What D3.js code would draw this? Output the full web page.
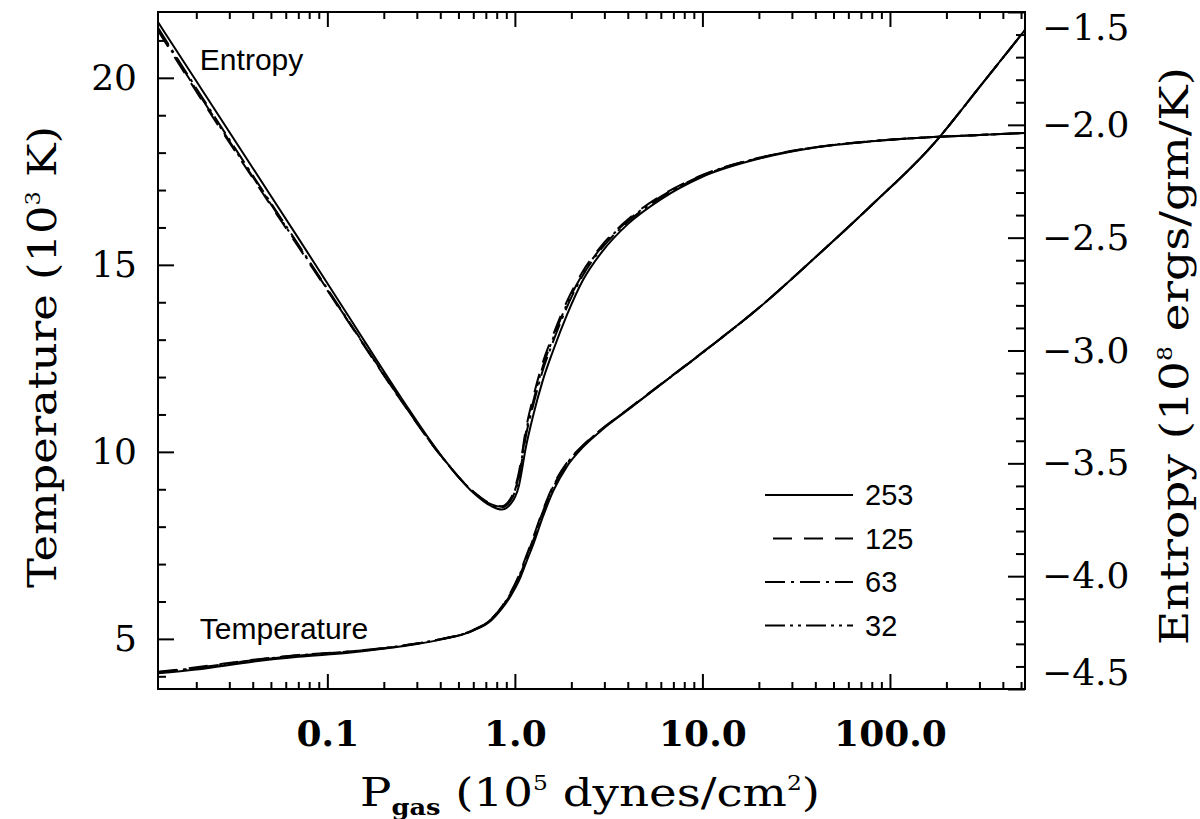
<!DOCTYPE html>
<html><head><meta charset="utf-8">
<script src="https://cdn.jsdelivr.net/npm/d3@7"></script>
<style>body{margin:0;background:#fff}</style>
</head><body>
<svg id="c" width="1200" height="819"></svg>
<script>
// ---- data ----
const pressure = [0.0125, 0.02, 0.04, 0.07, 0.13, 0.25, 0.4, 0.6, 0.75, 0.85, 0.95, 1.05, 1.15, 1.25, 1.4, 1.6, 1.9, 2.3, 2.9, 4, 6, 10, 20, 40, 80, 170, 300, 525];
const seriesNames = ["253", "125", "63", "32"];
const temp253 = [4.08, 4.18, 4.39, 4.52, 4.63, 4.80, 4.98, 5.22, 5.50, 5.80, 6.15, 6.55, 7.05, 7.51, 8.22, 8.95, 9.62, 10.12, 10.58, 11.12, 11.80, 12.65, 13.85, 15.20, 16.60, 18.22, 19.75, 21.28];
const temp125 = [4.12, 4.24, 4.44, 4.57, 4.66, 4.82, 4.99, 5.24, 5.54, 5.86, 6.25, 6.70, 7.22, 7.70, 8.40, 9.10, 9.72, 10.17, 10.61, 11.14, 11.81, 12.66, 13.85, 15.20, 16.60, 18.22, 19.75, 21.28];
const temp63  = [4.10, 4.21, 4.42, 4.55, 4.65, 4.81, 4.99, 5.23, 5.52, 5.83, 6.20, 6.63, 7.15, 7.62, 8.32, 9.04, 9.68, 10.15, 10.60, 11.13, 11.80, 12.65, 13.85, 15.20, 16.60, 18.22, 19.75, 21.28];
const temp32  = [4.11, 4.22, 4.43, 4.56, 4.66, 4.82, 4.99, 5.23, 5.53, 5.85, 6.22, 6.66, 7.18, 7.66, 8.36, 9.07, 9.70, 10.16, 10.60, 11.13, 11.80, 12.65, 13.85, 15.20, 16.60, 18.22, 19.75, 21.28];
const ent253 = [-1.545, -1.806, -2.191, -2.502, -2.849, -3.215, -3.460, -3.630, -3.690, -3.705, -3.680, -3.600, -3.420, -3.290, -3.140, -3.000, -2.840, -2.690, -2.565, -2.440, -2.330, -2.230, -2.150, -2.100, -2.073, -2.054, -2.045, -2.036];
const ent125 = [-1.582, -1.852, -2.236, -2.540, -2.876, -3.228, -3.463, -3.625, -3.680, -3.690, -3.655, -3.540, -3.340, -3.210, -3.060, -2.930, -2.780, -2.650, -2.535, -2.420, -2.315, -2.222, -2.146, -2.099, -2.072, -2.054, -2.045, -2.036];
const ent63  = [-1.570, -1.838, -2.224, -2.530, -2.870, -3.225, -3.462, -3.627, -3.684, -3.695, -3.665, -3.565, -3.370, -3.245, -3.095, -2.960, -2.805, -2.668, -2.548, -2.430, -2.322, -2.226, -2.148, -2.100, -2.073, -2.054, -2.045, -2.036];
const ent32  = [-1.576, -1.845, -2.230, -2.535, -2.873, -3.226, -3.462, -3.626, -3.682, -3.692, -3.660, -3.555, -3.355, -3.228, -3.078, -2.945, -2.792, -2.660, -2.542, -2.425, -2.318, -2.224, -2.147, -2.099, -2.072, -2.054, -2.045, -2.036];
const xMajorTicks = [0.1, 1, 10, 100];
const xTickLabels = ["0.1", "1.0", "10.0", "100.0"];
const tMajorTicks = [5, 10, 15, 20];
const sMajorTicks = [-1.5, -2.0, -2.5, -3.0, -3.5, -4.0, -4.5];

// ---- layout ----
const L = 158, R = 1025, T = 12, B = 689;
const svg = d3.select("#c");
const x = d3.scaleLog().domain([0.0125, 525]).range([L, R]);
const yT = d3.scaleLinear().domain([3.66, 21.76]).range([B, T]);
const yS = d3.scaleLinear().domain([-4.5, -1.5]).range([B, T]);

const serif = "'DejaVu Serif', 'Liberation Serif', serif";
const sans = "'Liberation Sans', Arial, sans-serif";

// minor ticks
const xMinor = [];
[0.01, 0.1, 1, 10, 100].forEach(d => { for (let k = 2; k <= 9; k++) { const v = d * k; if (v >= 0.0125 && v <= 525) xMinor.push(v); } });
const tMinor = d3.range(4, 22).filter(v => v % 5 !== 0);
const sMinor = d3.range(-45, -14).map(v => v / 10).filter(v => Math.round(v * 10) % 5 !== 0);

function styleAxis(g) { g.select(".domain").remove(); g.selectAll("line").attr("stroke", "#000").attr("stroke-width", 2); }

// bottom
svg.append("g").attr("transform", `translate(0,${B})`)
  .call(d3.axisBottom(x).tickValues(xMinor).tickSizeInner(-7).tickSizeOuter(0).tickFormat(""))
  .call(styleAxis);
svg.append("g").attr("transform", `translate(0,${B})`)
  .call(d3.axisBottom(x).tickValues(xMajorTicks).tickSizeInner(-15).tickSizeOuter(0).tickPadding(31)
    .tickFormat((d, i) => xTickLabels[i]))
  .call(styleAxis)
  .call(g => g.selectAll("text").attr("font-family", serif).attr("font-weight", "bold").attr("font-size", 36).attr("fill", "#000"));
// top
svg.append("g").attr("transform", `translate(0,${T})`)
  .call(d3.axisTop(x).tickValues(xMinor).tickSizeInner(-7).tickSizeOuter(0).tickFormat(""))
  .call(styleAxis);
svg.append("g").attr("transform", `translate(0,${T})`)
  .call(d3.axisTop(x).tickValues(xMajorTicks).tickSizeInner(-15).tickSizeOuter(0).tickFormat(""))
  .call(styleAxis);
// left
svg.append("g").attr("transform", `translate(${L},0)`)
  .call(d3.axisLeft(yT).tickValues(tMinor).tickSizeInner(-8).tickSizeOuter(0).tickFormat(""))
  .call(styleAxis);
svg.append("g").attr("transform", `translate(${L},0)`)
  .call(d3.axisLeft(yT).tickValues(tMajorTicks).tickSizeInner(-16).tickSizeOuter(0).tickPadding(21).tickFormat(d3.format("d")))
  .call(styleAxis)
  .call(g => g.selectAll("text").attr("font-family", serif).attr("font-size", 36).attr("fill", "#000"));
// right
svg.append("g").attr("transform", `translate(${R},0)`)
  .call(d3.axisRight(yS).tickValues(sMinor).tickSizeInner(-9).tickSizeOuter(0).tickFormat(""))
  .call(styleAxis);
svg.append("g").attr("transform", `translate(${R},0)`)
  .call(d3.axisRight(yS).tickValues(sMajorTicks).tickSizeInner(-17).tickSizeOuter(0).tickPadding(17).tickFormat(d3.format(".1f")))
  .call(styleAxis)
  .call(g => g.selectAll("text").attr("font-family", serif).attr("font-size", 36).attr("fill", "#000")
    .attr("dy", d => d === -1.5 ? "0.77em" : d === -4.5 ? "-0.12em" : "0.32em"));

// frame
svg.append("rect").attr("x", L).attr("y", T).attr("width", R - L).attr("height", B - T)
  .attr("fill", "none").attr("stroke", "#000").attr("stroke-width", 2);

// ---- curves ----
const dashes = { "253": null, "125": "19,12", "63": "20,6,3,6", "32": "20,5,3,5,3,5" };
const tempSeries = { "253": temp253, "125": temp125, "63": temp63, "32": temp32 };
const entSeries = { "253": ent253, "125": ent125, "63": ent63, "32": ent32 };
svg.append("clipPath").attr("id", "pc").append("rect").attr("x", L).attr("y", T).attr("width", R - L).attr("height", B - T);
const plot = svg.append("g").attr("clip-path", "url(#pc)");
const lineT = d3.line().x((d, i) => x(pressure[i])).y(d => yT(d)).curve(d3.curveMonotoneX);
const lineS = d3.line().x((d, i) => x(pressure[i])).y(d => yS(d)).curve(d3.curveMonotoneX);
seriesNames.slice().reverse().forEach(n => {
  plot.append("path").attr("d", lineT(tempSeries[n])).attr("fill", "none").attr("stroke", "#000")
    .attr("stroke-width", 2).attr("stroke-dasharray", dashes[n]);
  plot.append("path").attr("d", lineS(entSeries[n])).attr("fill", "none").attr("stroke", "#000")
    .attr("stroke-width", 2).attr("stroke-dasharray", dashes[n]);
});

// curve labels
svg.append("text").attr("x", x(0.0209)).attr("y", yT(20.2)).text("Entropy")
  .attr("font-family", sans).attr("font-size", 30).attr("fill", "#000");
svg.append("text").attr("x", x(0.0209)).attr("y", yT(5.0)).text("Temperature")
  .attr("font-family", sans).attr("font-size", 30).attr("fill", "#000");

// legend
const leg = svg.append("g").attr("transform", "translate(765,495)");
seriesNames.forEach((n, i) => {
  const g = leg.append("g").attr("transform", `translate(0,${i * 43.5})`);
  g.append("line").attr("x1", n === "125" ? 8 : 0).attr("x2", 88).attr("y1", 0).attr("y2", 0)
    .attr("stroke", "#000").attr("stroke-width", 2.2).attr("stroke-dasharray", dashes[n]);
  g.append("text").attr("x", 100).attr("y", 0).attr("dy", "0.36em").text(n)
    .attr("font-family", sans).attr("font-size", 29).attr("fill", "#000");
});

// axis titles
const xt = svg.append("text").attr("x", 360).attr("y", 806).attr("font-family", serif).attr("font-size", 40)
  .attr("fill", "#000").attr("textLength", 460).attr("lengthAdjust", "spacingAndGlyphs");
xt.append("tspan").text("P");
xt.append("tspan").attr("dy", 9).attr("font-size", 22).attr("font-weight", "bold").text("gas");
xt.append("tspan").attr("dy", -9).text(" (10");
xt.append("tspan").attr("dy", -16).attr("font-size", 20).text("5");
xt.append("tspan").attr("dy", 16).text(" dynes/cm");
xt.append("tspan").attr("dy", -16).attr("font-size", 20).text("2");
xt.append("tspan").attr("dy", 16).text(")");

const lt = svg.append("text").attr("transform", "translate(56,588) rotate(-90)").attr("x", 0).attr("y", 0)
  .attr("font-family", serif).attr("font-size", 40).attr("fill", "#000")
  .attr("textLength", 462).attr("lengthAdjust", "spacingAndGlyphs");
lt.append("tspan").text("Temperature (10");
lt.append("tspan").attr("dy", -16).attr("font-size", 20).text("3");
lt.append("tspan").attr("dy", 16).text(" K)");

const rt = svg.append("text").attr("transform", "translate(1188,645) rotate(-90)").attr("x", 0).attr("y", 0)
  .attr("font-family", serif).attr("font-size", 40).attr("fill", "#000")
  .attr("textLength", 578).attr("lengthAdjust", "spacingAndGlyphs");
rt.append("tspan").text("Entropy (10");
rt.append("tspan").attr("dy", -16).attr("font-size", 20).text("8");
rt.append("tspan").attr("dy", 16).text(" ergs/gm/K)");
</script>
</body></html>
